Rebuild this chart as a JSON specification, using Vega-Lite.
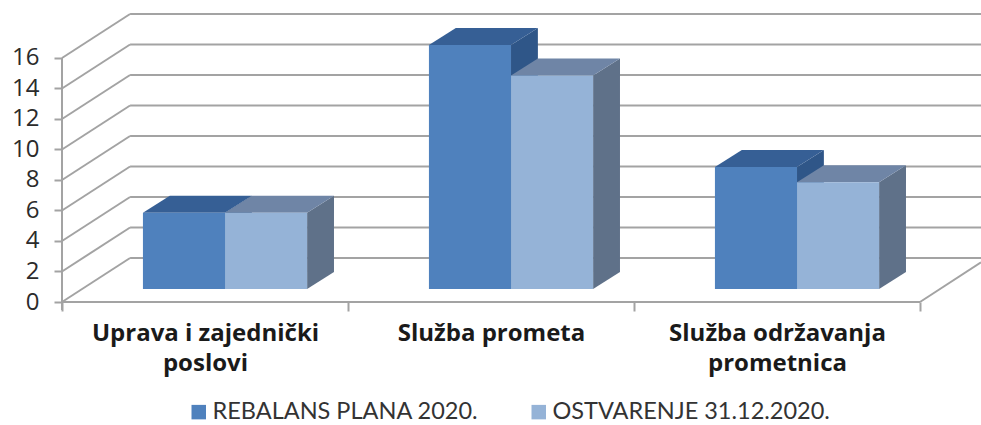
{
"$schema":"https://vega.github.io/schema/vega-lite/v6.json",
"width":919,"height":302,
"padding":{"left":62,"top":0,"right":0,"bottom":123},
"autosize":{"type":"none"},
"background":"white",
"config":{"view":{"stroke":null},"font":"Open Sans"},
"datasets":{
"walls":[
{"part":"axis","x":0,"x2":0,"y":-0.52,"y2":16},
{"part":"axis","x":0,"x2":3,"y":0,"y2":0},
{"part":"floor","x":3,"x2":3.2133,"y":0,"y2":2.6},
{"part":"side","x":0,"x2":0.238,"y":0,"y2":2.885},
{"part":"side","x":0,"x2":0.238,"y":2,"y2":4.885},
{"part":"side","x":0,"x2":0.238,"y":4,"y2":6.885},
{"part":"side","x":0,"x2":0.238,"y":6,"y2":8.885},
{"part":"side","x":0,"x2":0.238,"y":8,"y2":10.885},
{"part":"side","x":0,"x2":0.238,"y":10,"y2":12.885},
{"part":"side","x":0,"x2":0.238,"y":12,"y2":14.885},
{"part":"side","x":0,"x2":0.238,"y":14,"y2":16.885},
{"part":"side","x":0,"x2":0.238,"y":16,"y2":18.885},
{"part":"back","x":0.238,"x2":3.2133,"y":2.885,"y2":2.885},
{"part":"back","x":0.238,"x2":3.2133,"y":4.885,"y2":4.885},
{"part":"back","x":0.238,"x2":3.2133,"y":6.885,"y2":6.885},
{"part":"back","x":0.238,"x2":3.2133,"y":8.885,"y2":8.885},
{"part":"back","x":0.238,"x2":3.2133,"y":10.885,"y2":10.885},
{"part":"back","x":0.238,"x2":3.2133,"y":12.885,"y2":12.885},
{"part":"back","x":0.238,"x2":3.2133,"y":14.885,"y2":14.885},
{"part":"back","x":0.238,"x2":3.2133,"y":16.885,"y2":16.885},
{"part":"back","x":0.238,"x2":3.2133,"y":18.885,"y2":18.885}
],
"bars":[
{"category":"Uprava i zajednički poslovi","series":"REBALANS PLANA 2020.","x":0.283,"x2":0.57,"value":5},
{"category":"Uprava i zajednički poslovi","series":"OSTVARENJE 31.12.2020.","x":0.57,"x2":0.857,"value":5},
{"category":"Služba prometa","series":"REBALANS PLANA 2020.","x":1.283,"x2":1.57,"value":16},
{"category":"Služba prometa","series":"OSTVARENJE 31.12.2020.","x":1.57,"x2":1.857,"value":14},
{"category":"Služba održavanja prometnica","series":"REBALANS PLANA 2020.","x":2.283,"x2":2.57,"value":8},
{"category":"Služba održavanja prometnica","series":"OSTVARENJE 31.12.2020.","x":2.57,"x2":2.857,"value":7}
],
"faces":[
{"s":"A","face":"top","cat":0,"x":0.283,"y":5,"y2":5},
{"s":"A","face":"top","cat":0,"x":0.377,"y":5,"y2":6.12},
{"s":"A","face":"top","cat":0,"x":0.57,"y":5,"y2":6.12},
{"s":"A","face":"top","cat":0,"x":0.664,"y":6.12,"y2":6.12},
{"s":"A","face":"side","cat":0,"x":0.57,"y":5,"y2":0},
{"s":"A","face":"side","cat":0,"x":0.664,"y":6.12,"y2":1.12},
{"s":"B","face":"top","cat":0,"x":0.57,"y":5,"y2":5},
{"s":"B","face":"top","cat":0,"x":0.664,"y":5,"y2":6.12},
{"s":"B","face":"top","cat":0,"x":0.857,"y":5,"y2":6.12},
{"s":"B","face":"top","cat":0,"x":0.951,"y":6.12,"y2":6.12},
{"s":"B","face":"side","cat":0,"x":0.857,"y":5,"y2":0},
{"s":"B","face":"side","cat":0,"x":0.951,"y":6.12,"y2":1.12},
{"s":"A","face":"top","cat":1,"x":1.283,"y":16,"y2":16},
{"s":"A","face":"top","cat":1,"x":1.377,"y":16,"y2":17.12},
{"s":"A","face":"top","cat":1,"x":1.57,"y":16,"y2":17.12},
{"s":"A","face":"top","cat":1,"x":1.664,"y":17.12,"y2":17.12},
{"s":"A","face":"side","cat":1,"x":1.57,"y":16,"y2":0},
{"s":"A","face":"side","cat":1,"x":1.664,"y":17.12,"y2":1.12},
{"s":"B","face":"top","cat":1,"x":1.57,"y":14,"y2":14},
{"s":"B","face":"top","cat":1,"x":1.664,"y":14,"y2":15.12},
{"s":"B","face":"top","cat":1,"x":1.857,"y":14,"y2":15.12},
{"s":"B","face":"top","cat":1,"x":1.951,"y":15.12,"y2":15.12},
{"s":"B","face":"side","cat":1,"x":1.857,"y":14,"y2":0},
{"s":"B","face":"side","cat":1,"x":1.951,"y":15.12,"y2":1.12},
{"s":"A","face":"top","cat":2,"x":2.283,"y":8,"y2":8},
{"s":"A","face":"top","cat":2,"x":2.377,"y":8,"y2":9.12},
{"s":"A","face":"top","cat":2,"x":2.57,"y":8,"y2":9.12},
{"s":"A","face":"top","cat":2,"x":2.664,"y":9.12,"y2":9.12},
{"s":"A","face":"side","cat":2,"x":2.57,"y":8,"y2":0},
{"s":"A","face":"side","cat":2,"x":2.664,"y":9.12,"y2":1.12},
{"s":"B","face":"top","cat":2,"x":2.57,"y":7,"y2":7},
{"s":"B","face":"top","cat":2,"x":2.664,"y":7,"y2":8.12},
{"s":"B","face":"top","cat":2,"x":2.857,"y":7,"y2":8.12},
{"s":"B","face":"top","cat":2,"x":2.951,"y":8.12,"y2":8.12},
{"s":"B","face":"side","cat":2,"x":2.857,"y":7,"y2":0},
{"s":"B","face":"side","cat":2,"x":2.951,"y":8.12,"y2":1.12}
]
},
"resolve":{"scale":{"y":"independent","color":"independent"},"axis":{"x":"independent","y":"independent"}},
"layer":[
{"data":{"name":"walls"},"mark":{"type":"rule","color":"#a3a3a3","strokeWidth":2},
 "encoding":{
  "x":{"field":"x","type":"quantitative","scale":{"domain":[0,3.2133],"nice":false,"zero":false},"title":null,
   "axis":{"orient":"bottom","values":[0,1,2,3],"labels":false,"tickSize":9,"tickWidth":2,"tickColor":"#a3a3a3","domain":false,"grid":false,"title":null}},
  "x2":{"field":"x2"},
  "y":{"field":"y","type":"quantitative","scale":{"domain":[0,19.803],"nice":false,"zero":false},
   "axis":{"orient":"left","values":[0,2,4,6,8,10,12,14,16],"tickSize":8,"tickWidth":2,"tickColor":"#a3a3a3","domain":false,"grid":false,"title":null,"labelFont":"Open Sans","labelFontSize":24,"labelColor":"#2b2b2b","labelPadding":15}},
  "y2":{"field":"y2"}}},
{"data":{"name":"walls"},"transform":[{"filter":"false"}],"mark":{"type":"rule","opacity":0},
 "encoding":{
  "x":{"field":"x","type":"quantitative","scale":{"domain":[0,3.2133],"nice":false,"zero":false},
   "axis":{"orient":"bottom","values":[0.5,1.5,2.5],"ticks":false,"domain":false,"grid":false,"title":null,"labelFont":"Open Sans","labelFontSize":24,"labelFontWeight":"bold","labelColor":"#1a1a1a","labelPadding":19,"labelLineHeight":30,"labelAlign":"center","labelBaseline":"top","labelLimit":500,
    "labelExpr":"datum.value < 1 ? ['Uprava i zajednički','poslovi'] : datum.value < 2 ? ['Služba prometa'] : ['Služba održavanja','prometnica']"}},
  "y":{"field":"y","type":"quantitative","scale":{"domain":[0,19.803],"nice":false,"zero":false},"axis":null}}},
{"data":{"name":"faces"},"transform":[{"filter":"datum.s==='A' && datum.face==='side'"}],"mark":{"type":"area","color":"#2f5688"},
 "encoding":{"x":{"field":"x","type":"quantitative","axis":null},"y":{"field":"y","type":"quantitative","scale":{"domain":[-0.852,18.951],"nice":false,"zero":false},"axis":null},"y2":{"field":"y2"},"detail":{"field":"cat"}}},
{"data":{"name":"faces"},"transform":[{"filter":"datum.s==='A' && datum.face==='top'"}],"mark":{"type":"area","color":"#365f95"},
 "encoding":{"x":{"field":"x","type":"quantitative","axis":null},"y":{"field":"y","type":"quantitative","scale":{"domain":[-0.852,18.951],"nice":false,"zero":false},"axis":null},"y2":{"field":"y2"},"detail":{"field":"cat"}}},
{"data":{"name":"faces"},"transform":[{"filter":"datum.s==='B' && datum.face==='side'"}],"mark":{"type":"area","color":"#5f7189"},
 "encoding":{"x":{"field":"x","type":"quantitative","axis":null},"y":{"field":"y","type":"quantitative","scale":{"domain":[-0.852,18.951],"nice":false,"zero":false},"axis":null},"y2":{"field":"y2"},"detail":{"field":"cat"}}},
{"data":{"name":"faces"},"transform":[{"filter":"datum.s==='B' && datum.face==='top'"}],"mark":{"type":"area","color":"#6f85a6"},
 "encoding":{"x":{"field":"x","type":"quantitative","axis":null},"y":{"field":"y","type":"quantitative","scale":{"domain":[-0.852,18.951],"nice":false,"zero":false},"axis":null},"y2":{"field":"y2"},"detail":{"field":"cat"}}},
{"data":{"name":"bars"},"mark":{"type":"rect"},
 "encoding":{"x":{"field":"x","type":"quantitative","axis":null},"x2":{"field":"x2"},
  "y":{"field":"value","type":"quantitative","scale":{"domain":[-0.852,18.951],"nice":false,"zero":false},"axis":null},"y2":{"datum":0},
  "color":{"field":"series","type":"nominal","scale":{"domain":["REBALANS PLANA 2020.","OSTVARENJE 31.12.2020."],"range":["#4f81bd","#95b3d7"]},
   "legend":{"orient":"none","legendX":125,"legendY":400,"direction":"horizontal","title":null,"symbolType":"square","symbolSize":210,"symbolStrokeWidth":0,"labelFont":"Lato","labelFontSize":23.5,"labelColor":"#333333","labelLimit":500,"columnPadding":48,"labelOffset":2}}}}
]
}
